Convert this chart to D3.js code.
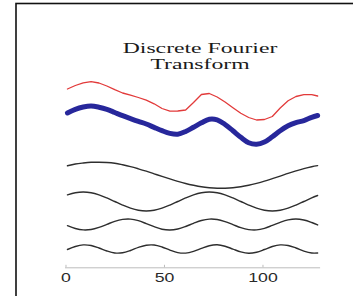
<!DOCTYPE html>
<html>
<head>
<meta charset="utf-8">
<script src="https://cdn.jsdelivr.net/npm/d3@7"></script>
<style>
  body { margin: 0; background: #fff; }
  svg { display: block; }
</style>
</head>
<body>
<div id="chart"></div>
<script>
// sample index (x) shared by every trace
const sampleIdx = [1, 5, 9, 13, 17, 21, 25, 29, 33, 37, 41, 45, 49, 53, 57, 61, 65,
  69, 73, 77, 81, 85, 89, 93, 97, 101, 105, 109, 113, 117, 121, 125, 128];

// noisy signal (red)
const noisySignal = [1.10, 1.45, 1.72, 1.83, 1.70, 1.40, 1.03, 0.70, 0.48, 0.25, -0.02, -0.38,
  -0.85, -1.12, -1.10, -1.00, -0.25, 0.55, 0.65, 0.30, -0.20, -0.77, -1.33, -1.75, -2.00,
  -1.95, -1.65, -0.80, -0.08, 0.35, 0.53, 0.54, 0.40];

// smoothed signal (blue)
const smoothSignal = [1.20, 1.57, 1.80, 1.90, 1.78, 1.57, 1.25, 0.93, 0.64, 0.36, 0.10, -0.24,
  -0.57, -0.84, -0.92, -0.65, -0.22, 0.22, 0.58, 0.52, 0.05, -0.58, -1.23, -1.77, -1.92,
  -1.70, -1.17, -0.57, -0.08, 0.24, 0.44, 0.77, 0.95];

// fourier components (black), lowest frequency first
const comp1 = [0.92, 1.10, 1.20, 1.27, 1.28, 1.25, 1.17, 1.02, 0.84, 0.62, 0.38, 0.12, -0.14,
  -0.39, -0.63, -0.85, -1.03, -1.18, -1.27, -1.32, -1.32, -1.28, -1.18, -1.03, -0.84, -0.62,
  -0.37, -0.11, 0.16, 0.41, 0.64, 0.83, 0.94];
const comp2 = [0.67, 0.88, 0.95, 0.88, 0.67, 0.36, 0, -0.36, -0.67, -0.88, -0.95, -0.88, -0.67,
  -0.36, 0, 0.36, 0.67, 0.88, 0.95, 0.88, 0.67, 0.36, 0, -0.36, -0.67, -0.88, -0.95, -0.88,
  -0.67, -0.36, 0, 0.36, 0.60];
const comp3 = [-0.12, -0.40, -0.54, -0.50, -0.29, 0.01, 0.32, 0.51, 0.54, 0.38, 0.09, -0.22,
  -0.47, -0.55, -0.45, -0.20, 0.12, 0.40, 0.54, 0.50, 0.29, -0.01, -0.32, -0.51, -0.54, -0.38,
  -0.09, 0.22, 0.46, 0.55, 0.45, 0.20, -0.04];
const comp4 = [-0.05, 0.25, 0.41, 0.35, 0.10, -0.20, -0.40, -0.38, -0.15, 0.16, 0.38, 0.40,
  0.20, -0.11, -0.36, -0.41, -0.24, 0.06, 0.33, 0.42, 0.28, -0.01, -0.29, -0.42, -0.32, -0.05,
  0.25, 0.41, 0.35, 0.10, -0.21, -0.40, -0.40];

// vertical offset each trace is plotted at
const traceOffsets = [17, 14.5, 9.5, 6.85, 4.55, 2.1];
const xTicks = [0, 50, 100];
const titleLines = ['Discrete Fourier', 'Transform'];

const width = 353;
const height = 296;
const stretch = 1.45; // the source picture is stretched sideways

const svg = d3.select('#chart').append('svg')
  .attr('width', width)
  .attr('height', height);

// frame
svg.append('rect')
  .attr('x', 16).attr('y', 3.5)
  .attr('width', 400).attr('height', 400)
  .attr('fill', 'none')
  .attr('stroke', '#111')
  .attr('stroke-width', 1.6);

const xScale = d3.scaleLinear().domain([-0.5, 129]).range([64.5, 319.6]);
const yScale = d3.scaleLinear().domain([0, 20]).range([270, 70]);

// title
const title = svg.append('g').attr('transform', 'translate(200,0)');
title.selectAll('text')
  .data(titleLines)
  .join('text')
  .attr('transform', (d, i) => `translate(0,${53 + i * 16}) scale(1.58,1)`)
  .attr('text-anchor', 'middle')
  .attr('font-family', '"Liberation Serif", "Times New Roman", serif')
  .attr('font-size', 15)
  .attr('fill', '#1a1a1a')
  .text(d => d);

// axis
const xAxis = d3.axisBottom(xScale)
  .tickValues(xTicks)
  .tickSizeInner(-2.5)
  .tickSizeOuter(0);

const axisG = svg.append('g')
  .attr('transform', 'translate(0,267.3)')
  .call(xAxis);
axisG.select('.domain').attr('stroke', '#bdbdbd').attr('stroke-width', 1);
axisG.selectAll('.tick line').attr('stroke', '#bdbdbd');
axisG.selectAll('.tick text')
  .attr('y', 14.6)
  .attr('dy', null)
  .attr('transform', `scale(${stretch},1)`)
  .attr('font-family', '"Liberation Sans", Arial, sans-serif')
  .attr('font-size', 12.2)
  .attr('fill', '#2a2a2a');

// traces
const traces = [
  { values: noisySignal, color: '#e23a3a', w: 1.3, curve: d3.curveLinear },
  { values: smoothSignal, color: '#27279b', w: 5, curve: d3.curveCatmullRom },
  { values: comp1, color: '#2e2e2e', w: 1.4, curve: d3.curveCatmullRom },
  { values: comp2, color: '#2e2e2e', w: 1.4, curve: d3.curveCatmullRom },
  { values: comp3, color: '#2e2e2e', w: 1.4, curve: d3.curveCatmullRom },
  { values: comp4, color: '#2e2e2e', w: 1.4, curve: d3.curveCatmullRom },
];

traces.forEach((t, k) => {
  const line = d3.line()
    .x((d, i) => xScale(sampleIdx[i]))
    .y(d => yScale(d + traceOffsets[k]))
    .curve(t.curve);
  svg.append('path')
    .datum(t.values)
    .attr('d', line)
    .attr('fill', 'none')
    .attr('stroke', t.color)
    .attr('stroke-width', t.w)
    .attr('stroke-linejoin', 'round')
    .attr('stroke-linecap', 'round');
});
</script>
</body>
</html>
